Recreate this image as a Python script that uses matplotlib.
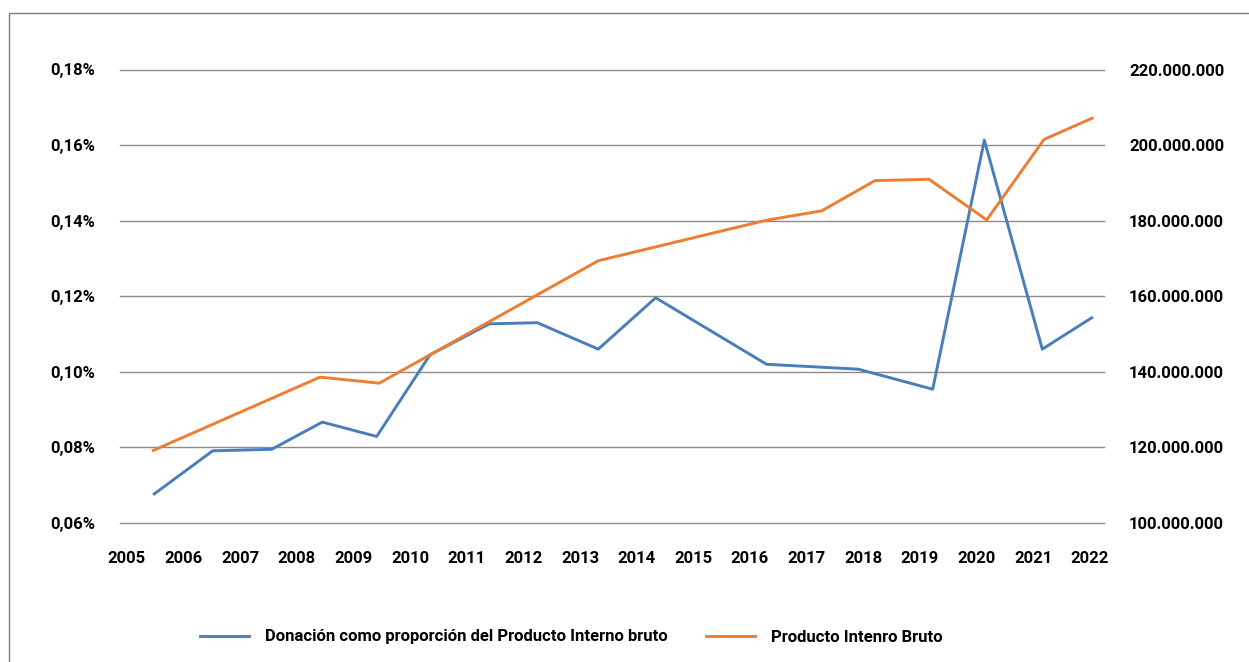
import matplotlib
matplotlib.use("Agg")
import matplotlib.pyplot as plt
from matplotlib.ticker import FuncFormatter
from matplotlib.patches import Rectangle

# fractional year positions of the points as drawn on the date axis
don_x = [2005.487, 2006.518, 2007.559, 2008.452, 2009.412, 2010.353, 2011.400, 2012.247,
         2013.323, 2014.336, 2016.292, 2017.912, 2019.225, 2020.136, 2021.159, 2022.031]
# donation as % of GDP
don_pct = [0.0677, 0.0791, 0.0795, 0.0867, 0.0829, 0.1045, 0.1127, 0.1130,
           0.1060, 0.1196, 0.1020, 0.1007, 0.0954, 0.1613, 0.1060, 0.1143]

pib_x = [2005.469, 2008.412, 2009.458, 2013.323, 2016.283, 2017.266, 2018.207,
         2019.160, 2020.178, 2021.190, 2022.037]
pib = [119.2e6, 138.6e6, 137.0e6, 169.4e6, 180.1e6, 182.6e6, 190.6e6,
       190.95e6, 180.2e6, 201.5e6, 207.1e6]

years = list(range(2005, 2023))

plt.rcParams['font.family'] = ['Roboto', 'DejaVu Sans']
FS = 12
WEIGHT = 'bold'

fig = plt.figure(figsize=(12.49, 6.62), dpi=100)
ax = fig.add_axes([120 / 1249, 139 / 662, 984 / 1249, 453.5 / 662])
ax2 = ax.twinx()

blue = '#4A7EBB'
orange = '#ED7D31'

l1, = ax.plot(don_x, don_pct, color=blue, lw=2.1, label='Donación como proporción del Producto Interno bruto')
l2, = ax2.plot(pib_x, pib, color=orange, lw=2.1, label='Producto Intenro Bruto')

ax.set_xlim(2004.882, 2022.248)
ax.set_ylim(0.06, 0.18)
ax2.set_ylim(100e6, 220e6)
ax.set_yticks([0.06, 0.08, 0.10, 0.12, 0.14, 0.16, 0.18])
ax2.set_yticks(range(100000000, 220000001, 20000000))
ax.set_xticks(years)

ax.yaxis.set_major_formatter(FuncFormatter(lambda v, p: f"{v:.2f}".replace('.', ',') + '%'))
ax2.yaxis.set_major_formatter(FuncFormatter(lambda v, p: f"{int(round(v)):,}".replace(',', '.')))

ax.grid(axis='y', color='#8c8c8c', lw=1.0)
ax.set_axisbelow(True)
for gl in ax.get_ygridlines():
    gl.set_clip_on(False)
for a in (ax, ax2):
    for s in a.spines.values():
        s.set_visible(False)
    a.tick_params(length=0, labelsize=FS)
    for lab in a.get_xticklabels() + a.get_yticklabels():
        lab.set_fontweight(WEIGHT)
ax.tick_params(axis='y', pad=18)
ax2.tick_params(axis='y', pad=18)
ax.tick_params(axis='x', pad=20)

leg = fig.legend(handles=[l1, l2], loc='center', bbox_to_anchor=(571 / 1249, 1 - 637 / 662),
                 ncol=2, frameon=False, fontsize=FS, handlelength=2.95, columnspacing=2.3,
                 handletextpad=0.95)
for t in leg.get_texts():
    t.set_fontweight(WEIGHT)

# outer border of the chart area
fig.patches.append(Rectangle((9 / 1249, -0.05), 1.2, 1 - 12.7 / 662 + 0.05, transform=fig.transFigure,
                             fill=False, edgecolor='#7f7f7f', lw=1.0))

fig.savefig('out.png', dpi=100)
